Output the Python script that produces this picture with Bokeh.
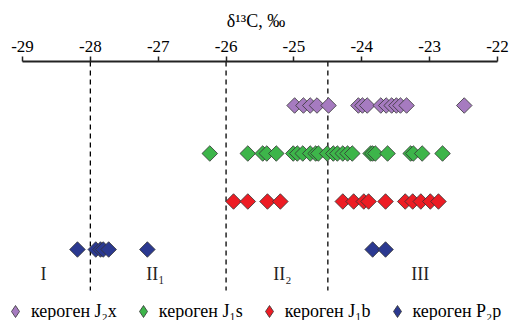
import math
from bokeh.plotting import figure
from bokeh.models import Legend, LegendItem, FixedTicker, ColumnDataSource
from bokeh.core.properties import value
from bokeh.embed import file_html
from bokeh.resources import INLINE

# --- data ---
j2x = [-24.99, -24.86, -24.76, -24.66, -24.49, -24.05, -23.99, -23.92, -23.72,
       -23.64, -23.56, -23.49, -23.43, -23.34, -22.49]
j1s = [-26.24, -25.68, -25.46, -25.40, -25.26, -25.01, -24.95, -24.87, -24.76,
       -24.68, -24.64, -24.51, -24.42, -24.36, -24.28, -24.21, -24.14, -23.87,
       -23.84, -23.80, -23.62, -23.28, -23.24, -23.11, -22.81]
j1b = [-25.89, -25.68, -25.39, -25.20, -24.28, -24.12, -23.97, -23.90, -23.65,
       -23.36, -23.25, -23.13, -22.99, -22.87]
p2p = [-28.19, -27.92, -27.85, -27.81, -27.73, -27.16, -23.84, -23.65]

series_names = ["кероген J₂x", "кероген J₁s", "кероген J₁b", "кероген P₂p"]
series_values = [j2x, j1s, j1b, p2p]
series_rows = [4, 3, 2, 1]
series_colors = ["#A67BC0", "#3DB54A", "#ED1C24", "#2B3990"]

boundaries = [-28.0, -26.0, -24.5]
region_labels = ["I", "II₁", "II₂", "III"]
region_x = [-28.69, -27.04, -25.17, -23.14]
region_y = [0.5, 0.5, 0.5, 0.5]

tick_values = [-29, -28, -27, -26, -25, -24, -23, -22]
tick_labels = ["-29", "-28", "-27", "-26", "-25", "-24", "-23", "-22"]
axis_title = "δ¹³C, ‰"
axis_bounds = (-29, -22)

SERIF = "Liberation Serif"
X_START = -29.3242
X_END = -21.7937
Y_TOP = 4.917
Y_BOTTOM = -0.479
DASH_BOTTOM = 0.146

p = figure(frame_width=511, frame_height=259, output_backend="svg", toolbar_location=None,
           x_range=(X_START, X_END), y_range=(Y_BOTTOM, Y_TOP), x_axis_location="above",
           min_border_left=0, min_border_right=0, min_border_top=61,
           min_border_bottom=0)
p.yaxis.visible = False
p.grid.visible = False
p.outline_line_color = None
p.background_fill_color = "white"

ax = p.xaxis[0]
ax.bounds = axis_bounds
ax.ticker = FixedTicker(ticks=tick_values)
ax.major_label_overrides = {t: l for t, l in zip(tick_values, tick_labels)}
ax.axis_label = axis_title
ax.axis_label_text_font = SERIF
ax.axis_label_text_font_style = "normal"
ax.axis_label_text_font_size = "18px"
ax.axis_label_text_color = "black"
ax.axis_label_standoff = 7
ax.major_label_text_font = SERIF
ax.major_label_text_font_size = "17px"
ax.major_label_text_color = "black"
ax.major_label_standoff = 5
ax.major_tick_in = 0
ax.major_tick_out = 5
ax.minor_tick_in = 0
ax.minor_tick_out = 0
ax.axis_line_width = 2
ax.axis_line_color = "#222222"
ax.major_tick_line_width = 1.5
ax.major_tick_line_color = "#222222"

p.segment(x0=boundaries, y0=[Y_TOP] * len(boundaries), x1=boundaries,
          y1=[DASH_BOTTOM] * len(boundaries), line_color="black",
          line_dash="5 4", line_width=1.3)

items = []
for name, vals, row, col in zip(series_names, series_values, series_rows, series_colors):
    src = ColumnDataSource(dict(x=vals, y=[row] * len(vals)))
    p.scatter("x", "y", source=src, marker="square", size=11, angle=math.pi / 4,
              fill_color=col, line_color="#333333", line_width=0.8)
    # legend swatch (a NaN point: drawn only in the legend)
    lr = p.scatter(x=[float("nan")], y=[float("nan")], marker="diamond", fill_color=col,
                   line_color="#333333", line_width=0.8)
    items.append(LegendItem(label=name, renderers=[lr]))

p.text(x=region_x, y=region_y, text=region_labels, text_font=value(SERIF),
       text_font_size="18px", text_align="center", text_baseline="middle",
       text_color="#222222")

legend = Legend(items=items, orientation="horizontal", location=(0, -6),
                label_text_font=SERIF, label_text_font_size="18px",
                label_text_color="black", glyph_width=30, glyph_height=30,
                label_standoff=1, spacing=11, padding=0, margin=0,
                border_line_color=None, background_fill_alpha=0)
p.add_layout(legend, "center")

open("out.html", "w").write(file_html(p, INLINE))
